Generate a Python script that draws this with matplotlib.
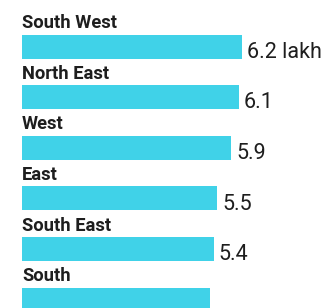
import matplotlib
matplotlib.use("Agg")
import matplotlib.pyplot as plt

categories = ["South West", "North East", "West", "East", "South East", "South"]
values = [6.2, 6.1, 5.9, 5.5, 5.4, 5.3]
value_labels = ["6.2 lakh", "6.1", "5.9", "5.5", "5.4", "5.3"]

W, H = 327, 308
fig = plt.figure(figsize=(W / 100, H / 100), dpi=100)
fig.patch.set_facecolor("white")

left_px = 22
px_per_unit = 35.5
first_center_px = 46.5
pitch_px = 50.6
bar_h_px = 24.0

ax = fig.add_axes([left_px / W, 0, 1 - left_px / W, 1])
ax.set_xlim(0, (W - left_px) / px_per_unit)
ax.set_ylim((H - first_center_px) / pitch_px, -first_center_px / pitch_px)
ax.axis("off")

fam = ["Roboto", "DejaVu Sans"]
bar_h = bar_h_px / pitch_px
ypos = list(range(len(categories)))
ax.barh(ypos, values, height=bar_h, color="#40d2e8", edgecolor="none")

for y, v, cat, lab in zip(ypos, values, categories, value_labels):
    ax.annotate(cat, xy=(0, y - bar_h / 2), xytext=(0, 4.5), textcoords="offset points",
                ha="left", va="baseline", fontsize=13.2, fontweight="bold",
                color="#1e1e1e", family=fam)
    ax.annotate(lab, xy=(v, y + bar_h / 2), xytext=(3.5, 0.5), textcoords="offset points",
                ha="left", va="baseline", fontsize=15.5, color="#1e1e1e", family=fam)

fig.savefig("out.png", dpi=100, facecolor="white")
